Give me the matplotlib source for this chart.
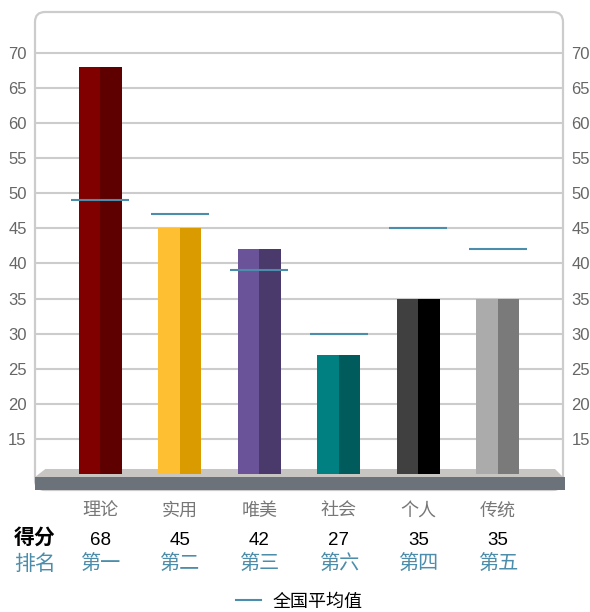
import matplotlib
matplotlib.use('Agg')
import matplotlib.pyplot as plt
from matplotlib.patches import FancyBboxPatch, Polygon, Rectangle
from matplotlib.lines import Line2D

plt.rcParams['font.family'] = ['Liberation Sans', 'Noto Sans CJK SC', 'DejaVu Sans']

# data
categories = ['理论', '实用', '唯美', '社会', '个人', '传统']
scores = [68, 45, 42, 27, 35, 35]
national_avg = [49, 47, 39, 30, 45, 42]
ranks = ['第一', '第二', '第三', '第六', '第四', '第五']
yticks = [15, 20, 25, 30, 35, 40, 45, 50, 55, 60, 65, 70]

light = ['#800000', '#FFBF32', '#6B539A', '#008080', '#404040', '#ABABAB']
dark = ['#5E0000', '#D99B00', '#4A3A6B', '#005C5C', '#000000', '#7A7A7A']
avg_color = '#4B8DAA'
base = 10

W, H = 590, 612
fig = plt.figure(figsize=(W / 100, H / 100), dpi=100)
# axes spans pixel x 35..563, y 12..490
ax = fig.add_axes([35 / W, (H - 490) / H, 528 / W, 478 / H])
ax.set_xlim(-0.817, 5.817)
ax.set_ylim(7.75, 75.79)
for s in ax.spines.values():
    s.set_visible(False)
ax.patch.set_visible(False)

# rounded frame
frame = FancyBboxPatch((0, 0), 1, 1, boxstyle='round,pad=0,rounding_size=0.019',
                       mutation_aspect=528 / 478, transform=ax.transAxes,
                       fc='white', ec='#CCCCCC', lw=1.6, zorder=0, clip_on=False)
ax.add_patch(frame)

ax.set_yticks(yticks)
ax.set_xticks([])
ax.tick_params(axis='y', length=0, pad=6, labelsize=12, labelcolor='#666666',
               labelleft=True, labelright=True)
ax.yaxis.grid(True, color='#CCCCCC', lw=1.5, zorder=1)
ax.set_axisbelow(True)

# floor
xl, xr = ax.get_xlim()
ax.add_patch(Polygon([(xl, 9.6), (xl + 0.13, 10.74), (xr - 0.1, 10.74), (xr, 9.6)],
                     closed=True, fc='#C8C6C3', ec='none', zorder=2, clip_on=False))
ax.add_patch(Rectangle((xl, 7.75), xr - xl + 0.02, 1.85, fc='#6B727A', ec='none',
                       zorder=2, clip_on=False))

# bars, two-tone
x = list(range(len(categories)))
bw = 0.54
heights = [v - base for v in scores]
ax.bar([i - bw / 4 for i in x], heights, bw / 2, bottom=base, color=light, zorder=3)
ax.bar([i + bw / 4 for i in x], heights, bw / 2, bottom=base, color=dark, zorder=3)

# national average markers
ax.hlines(national_avg, [i - 0.365 for i in x], [i + 0.365 for i in x],
          color=avg_color, lw=1.5, zorder=4, label='全国平均值')

# labels below
tr = ax.get_xaxis_transform()
def ay(py):
    return (490 - py) / 478

for i in x:
    ax.text(i, ay(516), categories[i], transform=tr, ha='center', va='baseline',
            fontsize=13, color='#777777')
    ax.text(i, ay(545), str(scores[i]), transform=tr, ha='center', va='baseline',
            fontsize=13.5, color='black')
    ax.text(i, ay(570), ranks[i], transform=tr, ha='center', va='baseline',
            fontsize=14.5, color=avg_color)
ax.text(xl, ay(544), '得分', transform=tr, ha='center', va='baseline',
        fontsize=15, fontweight='bold', color='black')
ax.text(xl, ay(570), '排名', transform=tr, ha='center', va='baseline',
        fontsize=15, color=avg_color)

ax.legend(handles=[Line2D([], [], color=avg_color, lw=1.5)], labels=['全国平均值'],
          loc='center', bbox_to_anchor=(0.5, ay(602)), frameon=False,
          fontsize=13, handlelength=1.4, handletextpad=0.6)

fig.savefig('out.png', dpi=100)
